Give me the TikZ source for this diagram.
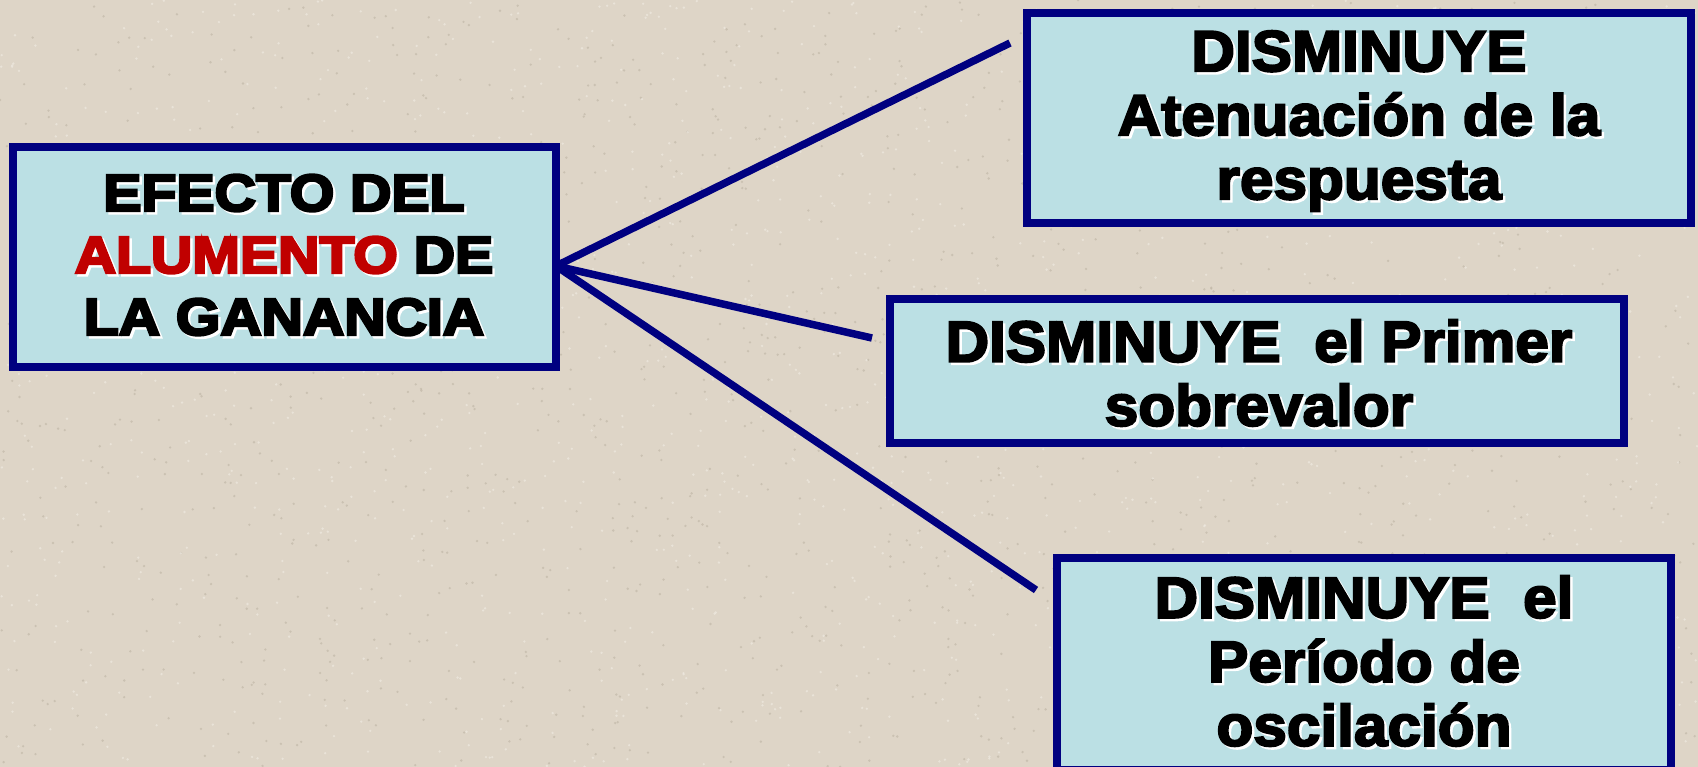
\documentclass[tikz,border=0pt]{standalone}
\usepackage{fontspec}
\setmainfont{Liberation Sans}
\newfontfamily\leftfont[FakeBold=5,FakeStretch=1.1]{Liberation Sans}
\newfontfamily\rightfont[FakeBold=3.5,FakeStretch=1.04]{Liberation Sans}
\definecolor{bgbeige}{RGB}{222,213,199}
\definecolor{bgdark}{RGB}{190,180,164}
\definecolor{bglight}{RGB}{238,233,224}
\definecolor{boxfill}{RGB}{187,224,228}
\definecolor{navyline}{RGB}{0,0,128}
\definecolor{alured}{RGB}{192,0,0}
\colorlet{hl}{alured}
\newcommand{\alu}[1]{\textcolor{hl}{#1}}
\tikzset{
  box/.style={draw=navyline, line width=8pt, fill=boxfill, inner sep=0pt},
  conn/.style={draw=navyline, line width=7.5pt},
  ltxt/.style={align=center, inner sep=0pt, font=\leftfont\bfseries\fontsize{52}{62}\selectfont},
  rtxt/.style={align=center, inner sep=0pt, font=\rightfont\bfseries\fontsize{58}{64}\selectfont},
  shade/.style={text=white, execute at begin node={\colorlet{hl}{white}}},
}
\newcommand{\stext}[5]{%
  \node[#1, shade] at ([shift={(2.5,2.5)}]#3) {#4};
  \node[#1] (#2) at (#3) {#5};}
\begin{document}
\begin{tikzpicture}[x=1pt,y=-1pt]
\useasboundingbox (0,0) rectangle (1698,767);
\fill[bgbeige] (0,0) rectangle (1698,767);
% speckled texture of the background
\pgfmathsetseed{7}
\foreach \i in {1,...,1400} {
  \pgfmathsetmacro{\px}{rnd*1698}
  \pgfmathsetmacro{\py}{rnd*767}
  \fill[bgdark, opacity=0.6] (\px,\py) circle (1.3pt);
}
\foreach \i in {1,...,1400} {
  \pgfmathsetmacro{\px}{rnd*1698}
  \pgfmathsetmacro{\py}{rnd*767}
  \fill[bglight, opacity=0.7] (\px,\py) circle (1.3pt);
}
% boxes
\node[box, minimum width=543pt, minimum height=220pt] (main) at (284.5,257) {};
\node[box, minimum width=664pt, minimum height=210pt] (b1) at (1359,118) {};
\node[box, minimum width=734pt, minimum height=144pt] (b2) at (1257,371) {};
\node[box, minimum width=614pt, minimum height=212pt] (b3) at (1364,664) {};
% connectors
\coordinate (hub) at (556,266);
\coordinate (e1) at (1010,43);
\coordinate (e2) at (872,338);
\coordinate (e3) at (1036,590);
\draw[conn] (hub) -- (e1);
\draw[conn] (hub) -- (e2);
\draw[conn] (hub) -- (e3);
% texts
\stext{ltxt}{tmain}{284,255}{EFECTO DEL\\ALUMENTO DE\\LA GANANCIA}{EFECTO DEL\\\alu{ALUMENTO} DE\\LA GANANCIA}
\stext{rtxt}{t1}{1359,121}{DISMINUYE\\Atenuación de la\\respuesta}{DISMINUYE\\Atenuación de la\\respuesta}
\stext{rtxt}{t2}{1259,373}{DISMINUYE\ \ el Primer\\sobrevalor}{DISMINUYE\ \ el Primer\\sobrevalor}
\stext{rtxt}{t3}{1364,661}{DISMINUYE\ \ el\\Período de\\oscilación}{DISMINUYE\ \ el\\Período de\\oscilación}
\end{tikzpicture}
\end{document}
